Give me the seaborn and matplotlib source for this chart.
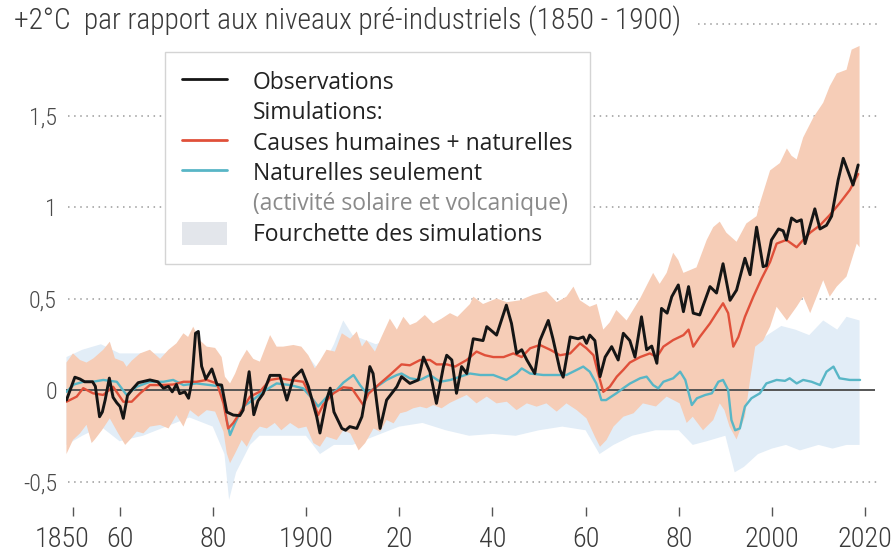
import matplotlib
matplotlib.use("Agg")
import numpy as np
import matplotlib.pyplot as plt
import seaborn as sns
from matplotlib import font_manager as fm
from matplotlib.lines import Line2D
from matplotlib.patches import Patch
from matplotlib.transforms import ScaledTranslation

obs_year = [1848.6, 1850.4, 1851.5, 1852.5, 1854.2, 1854.8, 1855.7, 1856.3, 1856.9, 1857.8,
            1858.6, 1859.4, 1860.1, 1860.8, 1861.7, 1862.6, 1864.0, 1866.5, 1868.2, 1869.4,
            1870.5, 1871.3, 1872.2, 1872.9, 1874.0, 1874.8, 1875.5, 1876.3, 1876.9, 1877.6,
            1878.5, 1879.8, 1880.9, 1881.9, 1883.0, 1884.4, 1885.8, 1886.5, 1887.8, 1888.8,
            1889.7, 1890.8, 1892.3, 1894.4, 1895.9, 1897.3, 1899.1, 1900.5, 1902.3, 1903.0,
            1904.4, 1905.2, 1906.0, 1907.7, 1908.5, 1909.4, 1910.9, 1912.0, 1913.0, 1913.7,
            1914.4, 1915.9, 1917.3, 1919.5, 1920.5, 1922.3, 1924.1, 1925.2, 1926.6, 1928.0,
            1929.5, 1930.2, 1931.3, 1932.3, 1933.4, 1934.5, 1935.9, 1938.0, 1938.8, 1940.9,
            1943.0, 1944.1, 1945.2, 1946.3, 1947.4, 1949.1, 1950.2, 1952.0, 1953.0, 1954.5,
            1955.2, 1956.7, 1958.4, 1959.5, 1960.2, 1960.9, 1962.0, 1963.1, 1964.2, 1965.6,
            1967.0, 1968.1, 1969.5, 1970.6, 1972.0, 1973.1, 1974.2, 1975.3, 1976.3, 1977.5,
            1978.5, 1979.9, 1981.0, 1982.1, 1983.1, 1984.5, 1986.7, 1988.1, 1989.5, 1991.0,
            1992.4, 1994.2, 1995.3, 1996.7, 1998.1, 1998.8, 1999.9, 2001.4, 2002.4, 2003.1,
            2004.2, 2005.3, 2006.3, 2007.1, 2008.2, 2009.2, 2010.3, 2011.7, 2012.8, 2014.2,
            2015.3, 2016.4, 2017.4, 2018.5]
obs_val = [-0.055, 0.07, 0.06, 0.045, 0.045, 0.02, -0.146, -0.12, -0.055, 0.065,
           -0.04, -0.07, -0.09, -0.155, -0.03, 0.0, 0.04, 0.055, 0.045, 0.01,
           0.02, -0.01, 0.03, -0.02, -0.01, -0.045, 0.045, 0.31, 0.32, 0.13,
           0.06, 0.115, 0.03, 0.027, -0.12, -0.137, -0.14, -0.11, 0.10, -0.135,
           -0.06, -0.02, 0.08, 0.08, -0.055, 0.066, 0.11, 0.02, -0.146, -0.235,
           -0.055, 0.01, -0.12, -0.21, -0.22, -0.2, -0.21, -0.146, 0.0, 0.128,
           0.09, -0.21, -0.055, 0.018, 0.073, 0.036, 0.055, 0.18, 0.1, -0.073,
           0.128, 0.19, 0.164, -0.018, 0.128, 0.09, 0.28, 0.27, 0.346, 0.3,
           0.464, 0.364, 0.2, 0.22, 0.164, 0.09, 0.27, 0.38, 0.28, 0.11,
           0.07, 0.29, 0.28, 0.29, 0.255, 0.3, 0.27, 0.073, 0.18, 0.237,
           0.164, 0.31, 0.27, 0.18, 0.4, 0.22, 0.24, 0.146, 0.446, 0.42,
           0.51, 0.574, 0.428, 0.565, 0.42, 0.41, 0.565, 0.53, 0.69, 0.49,
           0.546, 0.72, 0.63, 0.89, 0.674, 0.68, 0.82, 0.88, 0.87, 0.82,
           0.94, 0.92, 0.93, 0.8, 0.9, 0.99, 0.88, 0.9, 0.95, 1.147,
           1.266, 1.19, 1.12, 1.23]

# simulation: human + natural causes (mean)
hn_year = [1848.6, 1850.8, 1852.2, 1854.3, 1856.5, 1858.6, 1860.8, 1862.6, 1864.4, 1866.5,
           1868.7, 1871.5, 1873.7, 1876.5, 1878.7, 1880.9, 1882.3, 1883.3, 1884.4, 1886.2,
           1888.0, 1890.1, 1892.3, 1894.4, 1896.6, 1899.4, 1901.6, 1902.6, 1903.7, 1905.9,
           1908.0, 1909.8, 1912.3, 1913.4, 1915.9, 1918.0, 1920.5, 1922.3, 1924.5, 1926.6,
           1928.0, 1930.2, 1932.0, 1934.5, 1936.6, 1938.4, 1940.2, 1942.4, 1944.5, 1946.3,
           1948.1, 1950.2, 1952.4, 1954.5, 1956.7, 1958.8, 1960.2, 1961.7, 1962.7, 1963.8,
           1965.2, 1966.7, 1968.1, 1969.5, 1971.7, 1973.8, 1975.3, 1976.7, 1978.8, 1981.0,
           1982.1, 1983.1, 1984.5, 1986.7, 1988.1, 1989.5, 1990.6, 1991.7, 1992.8, 1994.2,
           1996.0, 1997.8, 1999.6, 2001.0, 2003.1, 2005.3, 2006.7, 2008.2, 2010.3, 2012.4,
           2014.5, 2016.7, 2018.5]
hn_val = [-0.064, -0.036, 0.01, -0.018, -0.027, 0.018, -0.064, -0.064, -0.018, 0.027,
          0.027, 0.03, 0.045, 0.045, 0.055, 0.036, -0.073, -0.21, -0.18, -0.11,
          -0.036, -0.009, 0.055, 0.064, 0.055, 0.045, -0.064, -0.137, -0.08, -0.018,
          0.015, 0.01, -0.082, -0.02, 0.036, 0.082, 0.14, 0.135, 0.164, 0.164,
          0.14, 0.14, 0.128, 0.164, 0.21, 0.19, 0.18, 0.18, 0.2, 0.18,
          0.228, 0.246, 0.22, 0.19, 0.2, 0.255, 0.228, 0.19, 0.09, -0.01,
          0.018, 0.073, 0.11, 0.15, 0.18, 0.2, 0.18, 0.237, 0.273, 0.3,
          0.33, 0.237, 0.29, 0.364, 0.42, 0.474, 0.42, 0.237, 0.29, 0.4,
          0.51, 0.61, 0.7, 0.8, 0.82, 0.78, 0.82, 0.86, 0.9, 0.956,
          1.02, 1.093, 1.18]

# simulation: natural causes only (mean)
nat_year = [1848.6, 1850.2, 1852.2, 1854.3, 1856.5, 1859.4, 1861.5, 1863.7, 1866.5, 1869.4,
            1871.5, 1873.7, 1876.5, 1879.4, 1881.9, 1883.0, 1883.7, 1884.8, 1886.5, 1888.6,
            1890.8, 1893.7, 1896.6, 1899.4, 1901.6, 1902.6, 1904.4, 1906.6, 1908.0, 1910.2,
            1911.6, 1913.0, 1915.2, 1917.3, 1919.5, 1920.5, 1922.3, 1924.5, 1926.6, 1928.8,
            1931.0, 1933.1, 1935.2, 1937.4, 1940.2, 1943.0, 1945.2, 1946.3, 1948.1, 1950.9,
            1953.8, 1955.9, 1958.1, 1959.5, 1960.9, 1962.3, 1963.4, 1964.4, 1966.6, 1968.1,
            1969.5, 1971.7, 1973.1, 1974.5, 1975.6, 1976.7, 1978.8, 1980.3, 1981.4, 1982.8,
            1983.9, 1985.7, 1987.1, 1988.5, 1989.5, 1990.6, 1991.3, 1992.1, 1993.1, 1994.2,
            1995.6, 1997.4, 1998.8, 2001.0, 2002.8, 2003.8, 2005.3, 2006.7, 2008.5, 2010.3,
            2011.7, 2013.2, 2014.5, 2016.7, 2018.9]
nat_val = [-0.01, 0.03, 0.045, 0.045, 0.055, 0.045, -0.027, 0.018, 0.045, 0.045,
           0.055, 0.027, 0.036, 0.027, 0.018, -0.164, -0.246, -0.18, -0.091, -0.055,
           -0.009, 0.036, 0.027, 0.009, -0.055, -0.09, -0.04, 0.0, 0.04, 0.082,
           0.027, -0.018, 0.018, 0.055, 0.082, 0.09, 0.064, 0.055, 0.082, 0.045,
           0.055, 0.073, 0.09, 0.082, 0.082, 0.055, 0.09, 0.118, 0.09, 0.082,
           0.082, 0.082, 0.11, 0.128, 0.1, 0.036, -0.055, -0.055, -0.018, 0.01,
           0.035, 0.064, 0.073, 0.027, 0.009, 0.045, 0.064, 0.1, 0.055, -0.082,
           -0.045, -0.027, -0.018, 0.045, 0.055, 0.0, -0.164, -0.22, -0.21, -0.09,
           -0.045, -0.018, 0.036, 0.055, 0.05, 0.064, 0.036, 0.055, 0.045, 0.027,
           0.1, 0.128, 0.064, 0.055, 0.055]

# range of human + natural simulations
hn_hi_year = [1848.6, 1850.0, 1851.5, 1852.9, 1854.4, 1856.5, 1857.9, 1859.0, 1860.8, 1861.5,
              1862.6, 1864.4, 1866.5, 1868.7, 1870.5, 1872.2, 1873.7, 1874.7, 1875.8, 1877.3,
              1878.7, 1880.5, 1881.9, 1882.6, 1883.7, 1884.8, 1885.8, 1887.3, 1888.7, 1890.1,
              1892.3, 1893.7, 1895.1, 1897.3, 1899.0, 1900.5, 1901.9, 1903.0, 1904.4, 1906.2,
              1907.7, 1909.5, 1910.9, 1912.0, 1913.0, 1914.8, 1916.2, 1918.0, 1919.5, 1920.9,
              1922.3, 1923.7, 1925.5, 1927.3, 1929.1, 1930.9, 1932.5, 1935.2, 1935.9, 1938.0,
              1940.9, 1943.1, 1945.9, 1948.7, 1951.6, 1953.8, 1955.9, 1957.4, 1958.8, 1960.9,
              1962.4, 1963.8, 1965.2, 1966.6, 1968.8, 1971.7, 1974.5, 1975.9, 1977.4, 1978.8,
              1979.9, 1981.0, 1983.8, 1986.0, 1987.4, 1988.8, 1990.2, 1992.4, 1994.5, 1996.7,
              1997.4, 1999.6, 2001.7, 2003.2, 2004.2, 2005.3, 2006.7, 2008.9, 2011.0, 2012.4,
              2013.9, 2016.0, 2017.1, 2018.8]
hn_hi_val = [0.15, 0.2, 0.164, 0.15, 0.173, 0.22, 0.264, 0.173, 0.155, 0.127,
             0.16, 0.2, 0.22, 0.17, 0.22, 0.255, 0.31, 0.29, 0.346, 0.27,
             0.237, 0.23, 0.18, 0.073, 0.036, 0.09, 0.155, 0.22, 0.17, 0.155,
             0.3, 0.237, 0.237, 0.246, 0.237, 0.19, 0.118, 0.16, 0.22, 0.21,
             0.31, 0.28, 0.32, 0.237, 0.273, 0.21, 0.29, 0.39, 0.33, 0.4,
             0.355, 0.37, 0.41, 0.364, 0.39, 0.42, 0.4, 0.47, 0.51, 0.47,
             0.5, 0.48, 0.49, 0.52, 0.54, 0.48, 0.51, 0.565, 0.49, 0.455,
             0.47, 0.33, 0.37, 0.437, 0.38, 0.5, 0.64, 0.58, 0.64, 0.75,
             0.71, 0.64, 0.67, 0.82, 0.89, 0.92, 0.86, 0.81, 0.91, 0.95,
             1.02, 1.2, 1.24, 1.32, 1.28, 1.26, 1.38, 1.49, 1.57, 1.66,
             1.73, 1.75, 1.86, 1.88]
hn_lo_year = [1848.6, 1850.0, 1851.5, 1852.9, 1854.0, 1854.7, 1856.2, 1857.9, 1859.7, 1861.2,
              1862.3, 1863.7, 1865.1, 1866.5, 1868.7, 1870.5, 1872.2, 1873.7, 1875.1, 1876.9,
              1878.7, 1880.5, 1882.3, 1883.0, 1883.7, 1884.8, 1886.2, 1887.3, 1888.7, 1890.1,
              1891.6, 1893.3, 1894.7, 1896.6, 1898.4, 1900.1, 1901.6, 1903.0, 1904.4, 1906.6,
              1908.0, 1909.5, 1911.3, 1912.7, 1914.5, 1915.9, 1917.3, 1918.8, 1920.2, 1921.6,
              1923.0, 1924.5, 1925.9, 1927.3, 1929.1, 1930.9, 1934.5, 1936.6, 1938.8, 1940.9,
              1943.1, 1945.2, 1947.4, 1949.5, 1951.6, 1953.8, 1955.9, 1958.1, 1960.2, 1962.0,
              1963.1, 1964.5, 1966.0, 1968.1, 1970.3, 1972.3, 1975.1, 1977.4, 1980.2, 1981.7,
              1983.0, 1985.2, 1987.4, 1988.8, 1989.8, 1990.9, 1992.4, 1994.2, 1995.3, 1996.4,
              1998.1, 1999.6, 2001.0, 2003.2, 2005.3, 2006.7, 2008.2, 2009.6, 2011.0, 2012.4,
              2013.9, 2016.0, 2018.2, 2018.8]
hn_lo_val = [-0.35, -0.273, -0.237, -0.19, -0.29, -0.27, -0.22, -0.155, -0.237, -0.3,
             -0.27, -0.227, -0.237, -0.2, -0.191, -0.21, -0.137, -0.2, -0.11, -0.146,
             -0.11, -0.118, -0.228, -0.346, -0.4, -0.346, -0.273, -0.31, -0.237, -0.2,
             -0.21, -0.18, -0.22, -0.18, -0.21, -0.2, -0.29, -0.31, -0.255, -0.273,
             -0.22, -0.237, -0.33, -0.29, -0.21, -0.228, -0.164, -0.182, -0.127, -0.118,
             -0.1, -0.091, -0.1, -0.082, -0.1, -0.07, -0.027, -0.073, -0.036, -0.073,
             -0.064, -0.11, -0.073, -0.091, -0.073, -0.118, -0.073, -0.11, -0.155, -0.255,
             -0.31, -0.273, -0.2, -0.146, -0.127, -0.073, -0.09, -0.036, -0.073, -0.18,
             -0.146, -0.22, -0.164, -0.073, -0.11, -0.2, -0.27, -0.146, 0.055, 0.237,
             0.27, 0.346, 0.455, 0.38, 0.455, 0.51, 0.42, 0.51, 0.6, 0.51,
             0.565, 0.62, 0.8, 0.78]

# range of natural-only simulations
nat_hi_year = [1848.6, 1852, 1856, 1860, 1865, 1870, 1875, 1880, 1882.5, 1884,
               1887, 1890, 1895, 1900, 1903, 1906, 1908, 1910, 1915, 1920,
               1925, 1930, 1935, 1940, 1945, 1950, 1955, 1960, 1963, 1966,
               1970, 1975, 1980, 1983, 1986, 1990, 1992, 1994, 1996, 1999,
               2002, 2005, 2008, 2011, 2014, 2016, 2018.8]
nat_hi_val = [0.18, 0.22, 0.25, 0.2, 0.2, 0.2, 0.25, 0.2, 0.05, 0.0,
              0.15, 0.15, 0.2, 0.2, 0.1, 0.25, 0.38, 0.3, 0.25, 0.3,
              0.3, 0.32, 0.35, 0.3, 0.35, 0.3, 0.32, 0.35, 0.15, 0.2,
              0.28, 0.3, 0.32, 0.15, 0.25, 0.3, 0.0, 0.1, 0.25, 0.3,
              0.35, 0.33, 0.3, 0.38, 0.33, 0.4, 0.38]
nat_lo_year = [1848.6, 1852, 1856, 1860, 1865, 1870, 1875, 1880, 1882.5, 1883.5,
               1885, 1888, 1890, 1895, 1900, 1903, 1906, 1910, 1915, 1920,
               1925, 1930, 1935, 1940, 1945, 1950, 1955, 1960, 1963, 1966,
               1970, 1975, 1980, 1983, 1986, 1990, 1992, 1994, 1997, 2000,
               2003, 2006, 2010, 2013, 2016, 2018.8]
nat_lo_val = [-0.3, -0.25, -0.2, -0.28, -0.25, -0.2, -0.15, -0.2, -0.35, -0.6,
              -0.45, -0.3, -0.25, -0.25, -0.25, -0.35, -0.3, -0.3, -0.25, -0.2,
              -0.18, -0.22, -0.25, -0.24, -0.25, -0.22, -0.2, -0.22, -0.35, -0.3,
              -0.25, -0.22, -0.22, -0.3, -0.28, -0.25, -0.45, -0.42, -0.35, -0.32,
              -0.3, -0.33, -0.3, -0.32, -0.3, -0.3]

x_ticks = [1850, 1860, 1880, 1900, 1920, 1940, 1960, 1980, 2000, 2020]
x_labels = ["1850", "60", "80", "1900", "20", "40", "60", "80", "2000", "2020"]
y_ticks = [-0.5, 0, 0.5, 1, 1.5]
y_labels = ["-0,5", "0", "0,5", "1", "1,5"]
title = "+2°C  par rapport aux niveaux pré-industriels (1850 - 1900)"
legend_labels = ["Observations", "Simulations:", "Causes humaines + naturelles",
                 "Naturelles seulement", "(activité solaire et volcanique)",
                 "Fourchette des simulations"]

OBS_C = "#151515"
HN_C = "#e0503a"
NAT_C = "#58b6c6"
HN_BAND = "#f6cdb7"
NAT_BAND = "#e2edf7"
TXT = "#3a3a3a"

sns.set_theme(style="white")

names = {f.name for f in fm.fontManager.ttflist}


def pick(*cands):
    for c in cands:
        if c in names:
            return c
    return "DejaVu Sans"


cond = pick("Roboto Condensed", "Liberation Sans Narrow", "Open Sans Condensed",
            "DejaVu Sans Condensed", "Roboto")
body = pick("Open Sans", "Noto Sans", "Lato")
plt.rcParams["font.family"] = [body, "DejaVu Sans"]

fig = plt.figure(figsize=(8.94, 5.54), dpi=100)
W, H = 894, 554
ax = fig.add_axes([66 / W, 1 - 516 / H, (883.8 - 66) / W, (516 - 5.7) / H])
ax.set_xlim(1848.5, 2024)
ax.set_ylim(-0.6885, 2.1)
renderer = fig.canvas.get_renderer()


def fit_size(text, family, target_px, weight="normal", start=20):
    t = fig.text(0, 0, text, fontsize=start, family=[family, "DejaVu Sans"], weight=weight)
    w = t.get_window_extent(renderer).width
    t.remove()
    return start * target_px / w


title_fs = fit_size(title, cond, 667, "light")
xt_fs = fit_size("2000", cond, 55, "light")
yt_fs = fit_size("0,5", cond, 28, "light")
leg_fs = fit_size("Causes humaines + naturelles", body, 318)

# simulation ranges
ax.fill(np.r_[nat_hi_year, nat_lo_year[::-1]], np.r_[nat_hi_val, nat_lo_val[::-1]],
        color=NAT_BAND, lw=0, zorder=1)
ax.fill(np.r_[hn_hi_year, hn_lo_year[::-1]], np.r_[hn_hi_val, hn_lo_val[::-1]],
        color=HN_BAND, lw=0, zorder=1.5)

# dotted grid and zero line
ax.hlines([-0.5, 0.5, 1, 1.5], 1848.9, 2023.2, colors="#9a9a9a", lw=1.1,
          linestyles=(0, (1, 3)), zorder=0.5)
ax.hlines(2, 1984.1, 2023.2, colors="#9a9a9a", lw=1.1, linestyles=(0, (1, 3)), zorder=0.5)
ax.hlines(0, 1848.5, 2022.2, colors="#555555", lw=1.4, zorder=2)

sns.lineplot(x=nat_year, y=nat_val, ax=ax, color=NAT_C, lw=1.7, estimator=None,
             zorder=3, solid_joinstyle="round")
sns.lineplot(x=hn_year, y=hn_val, ax=ax, color=HN_C, lw=1.7, estimator=None,
             zorder=3.5, solid_joinstyle="round")
sns.lineplot(x=obs_year, y=obs_val, ax=ax, color=OBS_C, lw=2.1, estimator=None,
             zorder=4, solid_joinstyle="round")

sns.despine(ax=ax, left=True, bottom=True)
ax.grid(False)
ax.set_xlabel("")
ax.set_ylabel("")

ax.set_xticks(x_ticks)
ax.set_xticklabels(x_labels, family=[cond, "DejaVu Sans"], fontsize=xt_fs, color=TXT,
                   weight="light")
ax.set_yticks(y_ticks)
ax.set_yticklabels(y_labels, family=[cond, "DejaVu Sans"], fontsize=yt_fs, color="#4a4a4a",
                   weight="light")
ax.tick_params(axis="x", which="major", direction="in", length=6.5, width=1.0,
               color="#555555", pad=7.5, bottom=True)
ax.tick_params(axis="y", which="major", length=0, pad=6.5, left=True)

# 1850 label sits a little left of its tick
lab0 = ax.get_xticklabels()[0]
lab0.set_transform(lab0.get_transform() + ScaledTranslation(-11 / 100, 0, fig.dpi_scale_trans))

fig.text(14 / W, 1 - 29 / H, title, ha="left", va="baseline", fontsize=title_fs,
         family=[cond, "DejaVu Sans"], color=TXT, weight="light")

handles = [Line2D([], [], color=OBS_C, lw=2.0),
           Line2D([], [], color="none"),
           Line2D([], [], color=HN_C, lw=2.0),
           Line2D([], [], color=NAT_C, lw=2.0),
           Line2D([], [], color="none"),
           Patch(facecolor="#e3e6eb", edgecolor="none")]
leg = ax.legend(handles, legend_labels, loc="upper left",
                bbox_to_anchor=(165 / W, 1 - 52 / H), bbox_transform=fig.transFigure,
                frameon=True, fancybox=False, framealpha=1, edgecolor="#d4d4d4",
                fontsize=leg_fs, handlelength=1.95, handleheight=1.2, handletextpad=1.15,
                labelspacing=0.22, borderpad=0.75, borderaxespad=0)
leg.get_frame().set_linewidth(1.0)
leg.set_zorder(10)
for i, t in enumerate(leg.get_texts()):
    t.set_color("#8a8a8a" if i == 4 else "#222222")

fig.savefig("out.png", dpi=100)
